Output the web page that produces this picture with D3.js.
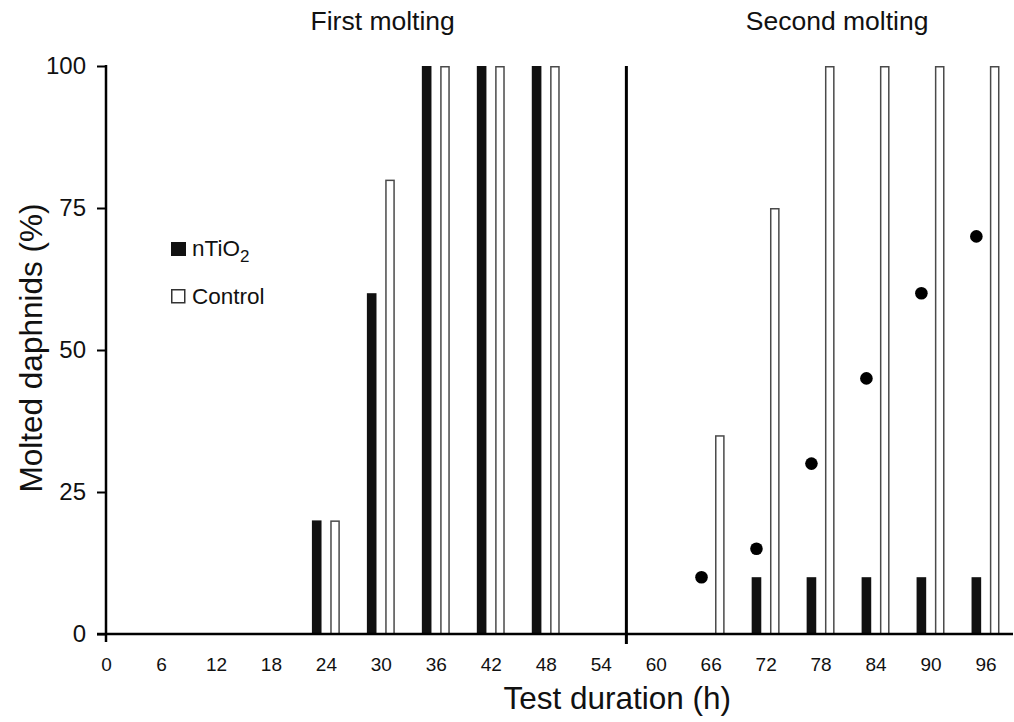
<!DOCTYPE html>
<html>
<head>
<meta charset="utf-8">
<script src="https://cdn.jsdelivr.net/npm/d3@7"></script>
<style>
  body { margin: 0; background: #fff; }
  text { font-family: "Liberation Sans", Arial, sans-serif; fill: #111; }
</style>
</head>
<body>
<svg id="chart" width="1014" height="722"></svg>
<script>
// sampling times (h) and molting percentages
var hours = [24, 30, 36, 42, 48, 66, 72, 78, 84, 90, 96];
var nTiO2 = [20, 60, 100, 100, 100, 0, 10, 10, 10, 10, 10];
var control = [20, 80, 100, 100, 100, 35, 75, 100, 100, 100, 100];
var dotHours = [66, 72, 78, 84, 90, 96];
var dotValues = [10, 15, 30, 45, 60, 70];
var xTicks = [0, 6, 12, 18, 24, 30, 36, 42, 48, 54, 60, 66, 72, 78, 84, 90, 96];
var yTicks = [0, 25, 50, 75, 100];
var splitHour = 56.8;

var svg = d3.select('#chart');
var x = d3.scaleLinear().domain([0, 99]).range([106, 1013]);
var y = d3.scaleLinear().domain([0, 100]).range([634, 66]);
var bw = x(1.05) - x(0);

// bars: black = nTiO2 (offset -1h), white = control (offset +1h)
svg.append('g').selectAll('rect')
    .data(hours.map((h, i) => ({h: h, v: nTiO2[i]})).filter(d => d.v > 0))
    .join('rect')
    .attr('x', d => x(d.h - 1) - bw / 2)
    .attr('y', d => y(d.v))
    .attr('width', bw)
    .attr('height', d => y(0) - y(d.v))
    .attr('fill', '#111');

svg.append('g').selectAll('rect')
    .data(hours.map((h, i) => ({h: h, v: control[i]})))
    .join('rect')
    .attr('x', d => x(d.h + 1) - bw / 2 + 0.75)
    .attr('y', d => y(d.v) + 0.75)
    .attr('width', bw - 1.5)
    .attr('height', d => y(0) - y(d.v) - 0.75)
    .attr('fill', '#fff')
    .attr('stroke', '#4a4a4a')
    .attr('stroke-width', 1.5);

svg.append('g').selectAll('circle')
    .data(dotHours.map((h, i) => ({h: h, v: dotValues[i]})))
    .join('circle')
    .attr('cx', d => x(d.h - 1))
    .attr('cy', d => y(d.v))
    .attr('r', 6.3)
    .attr('fill', '#000');

// y axis
var yAx = svg.append('g')
    .attr('transform', `translate(${x(0)},0)`)
    .call(d3.axisLeft(y).tickValues(yTicks).tickSize(9).tickPadding(11));
yAx.select('.domain').attr('stroke', '#000').attr('stroke-width', 2.5)
    .attr('d', `M0,${y(100) - 1}V${y(0) + 1}`);
yAx.selectAll('.tick line').attr('stroke', '#000').attr('stroke-width', 2);
yAx.selectAll('.tick text').style('font-size', '24px').attr('fill', '#111');

// x axis
var xAx = svg.append('g')
    .attr('transform', `translate(0,${y(0)})`)
    .call(d3.axisBottom(x).tickValues(xTicks).tickSize(0).tickPadding(24));
xAx.select('.domain').attr('stroke', '#000').attr('stroke-width', 2.5)
    .attr('d', `M${x(0) - 9},0H${x(99)}`);
xAx.selectAll('.tick text').style('font-size', '19px').attr('fill', '#111');

// tick at origin and divider between moltings
svg.append('line')
    .attr('x1', x(0)).attr('x2', x(0))
    .attr('y1', y(0)).attr('y2', y(0) + 8)
    .attr('stroke', '#000').attr('stroke-width', 2.5);
svg.append('line')
    .attr('x1', x(splitHour)).attr('x2', x(splitHour))
    .attr('y1', y(100)).attr('y2', y(0) + 10)
    .attr('stroke', '#000').attr('stroke-width', 3);

// section titles
svg.append('text').attr('x', x(30.2)).attr('y', 30)
    .attr('text-anchor', 'middle').style('font-size', '26.5px').text('First molting');
svg.append('text').attr('x', x(79.8)).attr('y', 30)
    .attr('text-anchor', 'middle').style('font-size', '26.5px').text('Second molting');

// axis titles
svg.append('text').attr('x', x(55.8)).attr('y', 709)
    .attr('text-anchor', 'middle').style('font-size', '31.5px').text('Test duration (h)');
svg.append('text')
    .attr('transform', `translate(42,${y(50) - 2}) rotate(-90)`)
    .attr('text-anchor', 'middle').style('font-size', '31.5px').text('Molted daphnids (%)');

// legend
var lg = svg.append('g').attr('transform', 'translate(171,242)');
lg.append('rect').attr('width', 15).attr('height', 14).attr('fill', '#111');
var t1 = lg.append('text').attr('x', 21).attr('y', 14).style('font-size', '22.5px');
t1.append('tspan').text('nTiO');
t1.append('tspan').attr('dy', 6).style('font-size', '17px').text('2');
lg.append('rect').attr('x', 0.75).attr('y', 47.75).attr('width', 13).attr('height', 13)
    .attr('fill', '#fff').attr('stroke', '#333').attr('stroke-width', 1.5);
lg.append('text').attr('x', 21).attr('y', 61.5).style('font-size', '22.5px').text('Control');
</script>
</body>
</html>
